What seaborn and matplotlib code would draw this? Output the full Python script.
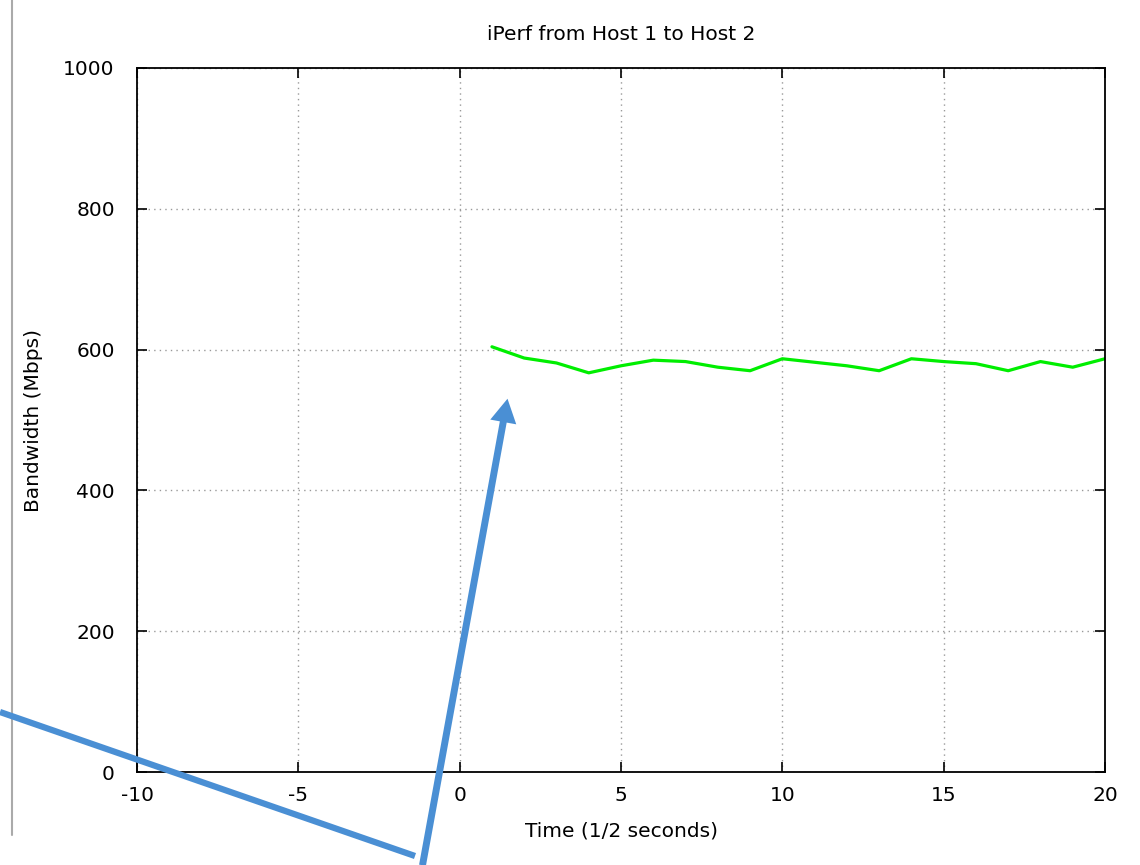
import matplotlib
matplotlib.use("Agg")
import matplotlib.pyplot as plt
import seaborn as sns
import pandas as pd
from matplotlib.lines import Line2D
from matplotlib.patches import FancyArrowPatch

time_half_s = [1, 2, 3, 4, 5, 6, 7, 8, 9, 10, 11, 12, 13, 14, 15, 16, 17, 18, 19, 20]
bandwidth = [604, 588, 581, 567, 577, 585, 583, 575, 570, 587,
             582, 577, 570, 587, 583, 580, 570, 583, 575, 587]
x_ticks = [-10, -5, 0, 5, 10, 15, 20]
y_ticks = [0, 200, 400, 600, 800, 1000]

sns.set_theme(style="white")
plt.rcParams['font.family'] = ['DejaVu Sans']
plt.rcParams['text.color'] = 'black'
plt.rcParams['axes.labelcolor'] = 'black'
plt.rcParams['xtick.color'] = 'black'
plt.rcParams['ytick.color'] = 'black'

df = pd.DataFrame({"t": time_half_s, "bw": bandwidth})

fig = plt.figure(figsize=(11.4, 8.65), dpi=100)
ax = fig.add_axes([0.1202, 0.1075, 0.8491, 0.8139])

sns.lineplot(data=df, x="t", y="bw", ax=ax, color="#00ee00", linewidth=2.3)

FS = 14.5
ax.set_xlim(-10, 20)
ax.set_ylim(0, 1000)
ax.set_xticks(x_ticks)
ax.set_yticks(y_ticks)
ax.set_xticklabels([str(v) for v in x_ticks], fontsize=FS)
ax.set_yticklabels([str(v) for v in y_ticks], fontsize=FS)
ax.tick_params(direction="in", length=7, width=1.2, color="black",
               top=True, right=True, bottom=True, left=True)
ax.tick_params(axis="y", pad=16)
ax.tick_params(axis="x", pad=10)
ax.grid(True, linestyle=(0, (1, 3)), color="#999999", linewidth=1.0)
for s in ax.spines.values():
    s.set_color("black")
    s.set_linewidth(1.3)
ax.set_title("iPerf from Host 1 to Host 2", fontsize=FS, pad=20)
ax.set_xlabel("Time (1/2 seconds)", fontsize=FS)
ax.set_ylabel("Bandwidth (Mbps)", fontsize=FS)
ax.xaxis.set_label_coords(0.5, -0.07)
ax.yaxis.set_label_coords(-0.097, 0.5)

# screenshot annotations (figure pixel coords)
W, H = 1140, 865
def fp(x, y):
    return (x / W, 1 - y / H)

fig.add_artist(Line2D([fp(12, 0)[0], fp(12, 835)[0]], [fp(12, 0)[1], fp(12, 835)[1]],
                      transform=fig.transFigure, color="#aaaaaa", linewidth=1.5))
blue = "#4a8fd4"
fig.add_artist(Line2D([fp(0, 712)[0], fp(415, 856)[0]], [fp(0, 712)[1], fp(415, 856)[1]],
                      transform=fig.transFigure, color=blue, linewidth=4.5,
                      solid_capstyle="butt"))
arr = FancyArrowPatch(fp(422, 868), fp(508, 396), transform=fig.transFigure,
                      arrowstyle="simple,head_length=17,head_width=19,tail_width=5",
                      mutation_scale=1, color=blue, linewidth=0)
fig.add_artist(arr)

fig.savefig("out.png", dpi=100)
